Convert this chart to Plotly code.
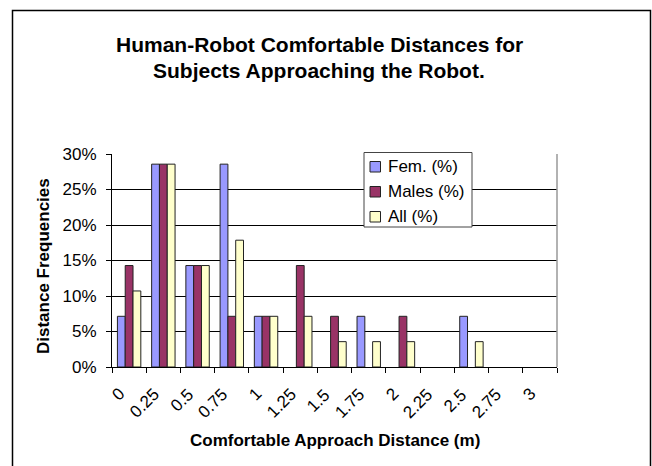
import plotly.graph_objects as go

categories = ["0", "0.25", "0.5", "0.75", "1", "1.25", "1.5", "1.75", "2", "2.25", "2.5", "2.75", "3"]
fem_pct = [7.14, 28.57, 14.29, 28.57, 7.14, 0, 0, 7.14, 0, 0, 7.14, 0, 0]
males_pct = [14.29, 28.57, 14.29, 7.14, 7.14, 14.29, 7.14, 0, 7.14, 0, 0, 0, 0]
all_pct = [10.71, 28.57, 14.29, 17.86, 7.14, 7.14, 3.57, 3.57, 3.57, 0, 3.57, 0, 0]
series_names = ["Fem. (%)", "Males (%)", "All (%)"]
series_colors = ["#9999FF", "#993366", "#FFFFCC"]
y_ticks = [0, 5, 10, 15, 20, 25, 30]
y_tick_labels = [f"{v}%" for v in y_ticks]

FONT = "Liberation Sans, Arial, sans-serif"
W, H = 652, 466
L, R, T, B = 112, 557, 154, 367
pw, ph = R - L, B - T

def px(x):
    return (x - L) / pw

def py(y):
    return (B - y) / ph

fig = go.Figure()
for name, vals, col in zip(series_names, [fem_pct, males_pct, all_pct], series_colors):
    fig.add_trace(go.Bar(x=categories, y=vals, name=name, showlegend=False,
                         marker=dict(color=col,
                                     line=dict(color="#222222",
                                               width=[1 if v > 0 else 0 for v in vals]))))

fig.update_layout(
    width=W, height=H,
    margin=dict(l=L, r=W - R, t=T, b=H - B),
    paper_bgcolor="white", plot_bgcolor="white",
    font=dict(family=FONT, size=17, color="black"),
    barmode="group", bargap=0.316, bargroupgap=0,
    xaxis=dict(type="category", categoryorder="array", categoryarray=categories,
               range=[-0.5, len(categories) - 0.5],
               ticks="outside", ticklen=5, tickson="boundaries",
               tickcolor="black", showline=True, linecolor="black", linewidth=1,
               showgrid=False, showticklabels=False),
    yaxis=dict(range=[0, 30], tickmode="array", tickvals=y_ticks, ticktext=y_tick_labels,
               ticks="outside", ticklen=5, tickcolor="black",
               showline=True, linecolor="black", linewidth=1,
               showgrid=True, gridcolor="black", gridwidth=1,
               zeroline=False, tickfont=dict(size=17), ticklabelstandoff=6),
)

# rotated category labels (Excel places them slightly left of the category centre)
for i, c in enumerate(categories):
    fig.add_annotation(text=c, xref="x", yref="paper", x=i, y=py(382),
                       xanchor="right", yanchor="top", textangle=-45, xshift=2,
                       showarrow=False, font=dict(size=17))

# plot-area right border (grey)
fig.add_shape(type="line", xref="paper", yref="paper", x0=1, x1=1, y0=0, y1=1,
              line=dict(color="#999999", width=1.5))
# outer chart frame
fig.add_shape(type="rect", xref="paper", yref="paper",
              x0=px(12.5), x1=px(650.5), y0=py(475), y1=py(10.5),
              line=dict(color="black", width=1.5), layer="above")

# legend (drawn manually to match the compact Excel legend)
fig.add_shape(type="rect", xref="paper", yref="paper",
              x0=px(364), x1=px(472), y0=py(227), y1=py(152.5),
              fillcolor="white", line=dict(color="#444444", width=1), layer="above")
for i, (name, col) in enumerate(zip(series_names, series_colors)):
    cy = 166.5 + 25 * i
    fig.add_shape(type="rect", xref="paper", yref="paper",
                  x0=px(370), x1=px(380.5), y0=py(cy + 5.5), y1=py(cy - 5),
                  fillcolor=col, line=dict(color="#222222", width=1), layer="above")
    fig.add_annotation(text=name, xref="paper", yref="paper",
                       x=px(386), y=py(cy), xanchor="left", yanchor="middle",
                       showarrow=False, font=dict(size=17))

# titles
fig.add_annotation(text="<b>Human-Robot Comfortable Distances for</b>", xref="paper", yref="paper",
                   x=px(319), y=py(45), xanchor="center", yanchor="middle", showarrow=False,
                   font=dict(size=21))
fig.add_annotation(text="<b>Subjects Approaching the Robot.</b>", xref="paper", yref="paper",
                   x=px(319), y=py(71), xanchor="center", yanchor="middle", showarrow=False,
                   font=dict(size=21))
fig.add_annotation(text="<b>Comfortable Approach Distance (m)</b>", xref="paper", yref="paper",
                   x=px(334.5), y=py(440), xanchor="center", yanchor="middle", showarrow=False,
                   font=dict(size=17))
fig.add_annotation(text="<b>Distance Frequencies</b>", xref="paper", yref="paper",
                   x=px(43), y=py(266), xanchor="center", yanchor="middle", showarrow=False,
                   textangle=-90, font=dict(size=17))

fig.write_html("out.html", config={"displayModeBar": False},
               post_script="document.body.style.margin='0';")
